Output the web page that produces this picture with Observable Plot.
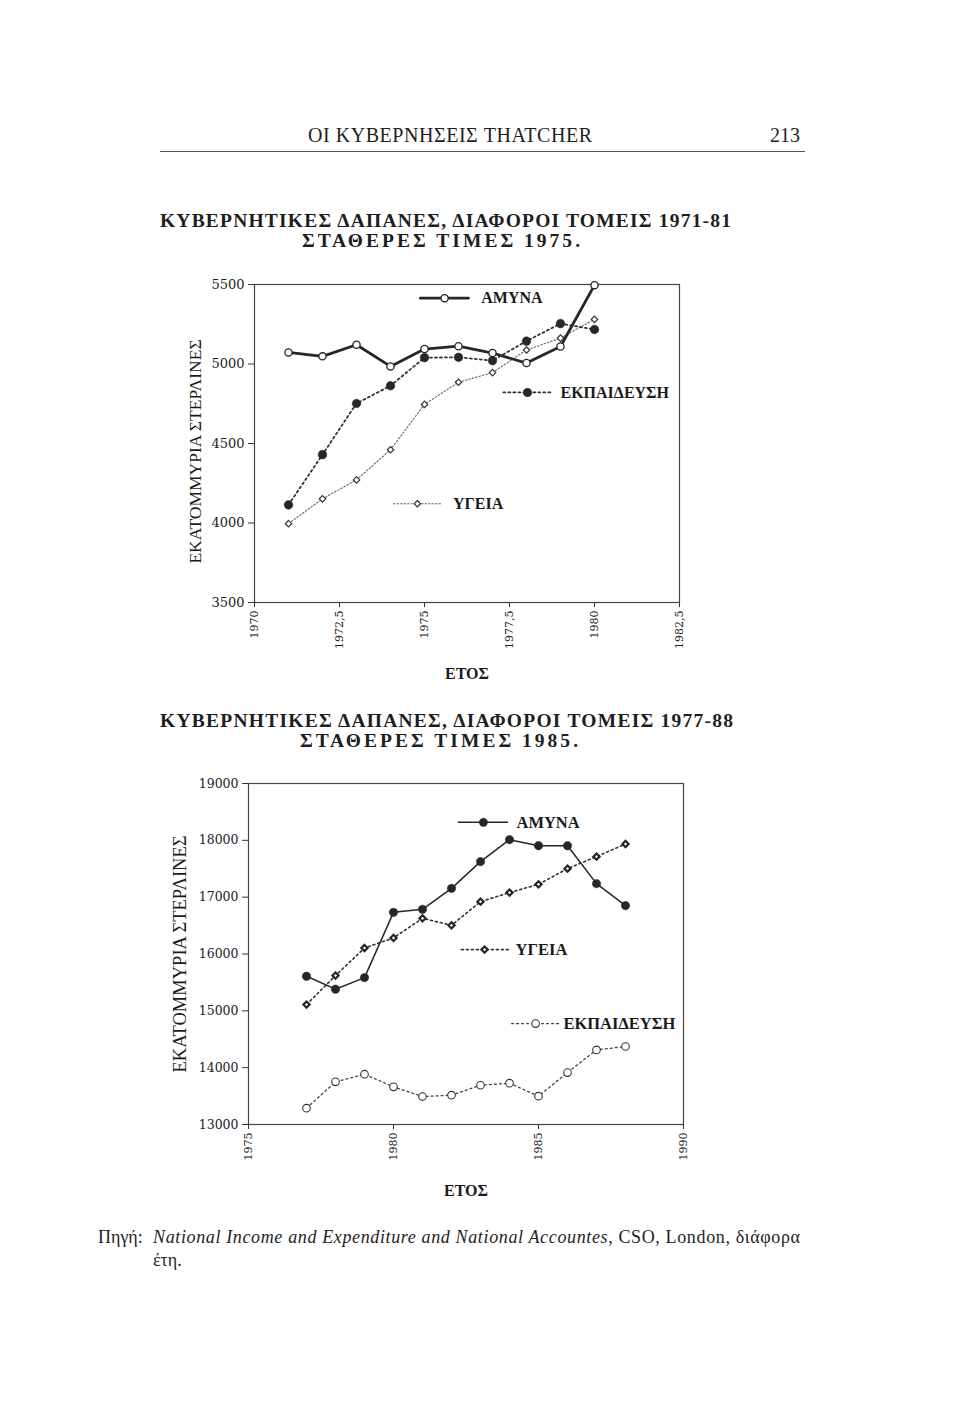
<!DOCTYPE html>
<html><head><meta charset="utf-8">
<script src="https://cdn.jsdelivr.net/npm/d3@7"></script>
<script src="https://cdn.jsdelivr.net/npm/@observablehq/plot@0.6"></script>
<style>
body{margin:0;background:#fff;}
#page{position:relative;width:960px;height:1408px;overflow:hidden;background:#fff;}
#page > svg, #page > figure{position:absolute;margin:0;}
</style></head><body><div id="page"></div>
<script>
// ---------- DATA ----------
// Chart 1: 1971-1980, constant 1975 prices (million £)
const years1 = [1971,1972,1973,1974,1975,1976,1977,1978,1979,1980];
const defence1   = [5073,5048,5121,4985,5094,5112,5069,5006,5110,5496];
const education1 = [4114,4430,4752,4863,5040,5042,5021,5144,5254,5217];
const health1    = [3996,4152,4271,4461,4746,4885,4946,5088,5163,5281];
const xTicks1 = [1970,1972.5,1975,1977.5,1980,1982.5];
const yTicks1 = [3500,4000,4500,5000,5500];

// Chart 2: 1977-1988, constant 1985 prices (million £)
const years2 = [1977,1978,1979,1980,1981,1982,1983,1984,1985,1986,1987,1988];
const defence2   = [15608,15381,15585,16733,16786,17155,17625,18012,17906,17906,17238,16851];
const health2    = [15110,15620,16105,16283,16628,16505,16921,17080,17226,17502,17713,17936];
const education2 = [13287,13751,13885,13663,13492,13516,13691,13727,13498,13914,14313,14372];
const xTicks2 = [1975,1980,1985,1990];
const yTicks2 = [13000,14000,15000,16000,17000,18000,19000];

const nameDefence = "ΑΜΥΝΑ";
const nameEducation = "ΕΚΠΑΙΔΕΥΣΗ";
const nameHealth = "ΥΓΕΙΑ";
const yLabel = "ΕΚΑΤΟΜΜΥΡΙΑ ΣΤΕΡΛΙΝΕΣ";
const xLabel = "ΕΤΟΣ";

// ---------- PAGE TEXT ----------
const page = document.getElementById("page");
const ns = "http://www.w3.org/2000/svg";
const textSvg = document.createElementNS(ns, "svg");
textSvg.setAttribute("width", 960); textSvg.setAttribute("height", 1408);
textSvg.style.left = "0px"; textSvg.style.top = "0px";
page.appendChild(textSvg);

function addText(str, x, y, size, opts = {}) {
  const t = document.createElementNS(ns, "text");
  t.setAttribute("x", x); t.setAttribute("y", y);
  t.setAttribute("font-family", "Liberation Serif");
  t.setAttribute("font-size", size);
  t.setAttribute("fill", "#1e1e1e");
  if (opts.weight) t.setAttribute("font-weight", opts.weight);
  if (opts.anchor) t.setAttribute("text-anchor", opts.anchor);
  if (opts.len) { t.setAttribute("textLength", opts.len); t.setAttribute("lengthAdjust", "spacing"); }
  if (opts.parts) {
    for (const p of opts.parts) {
      const s = document.createElementNS(ns, "tspan");
      s.textContent = p.t;
      if (p.italic) s.setAttribute("font-style", "italic");
      t.appendChild(s);
    }
  } else t.textContent = str;
  textSvg.appendChild(t);
  return t;
}
addText("ΟΙ ΚΥΒΕΡΝΗΣΕΙΣ THATCHER", 308, 142, 20, {len: 284});
addText("213", 800, 142, 20, {anchor: "end"});
const rule = document.createElementNS(ns, "line");
rule.setAttribute("x1", 160); rule.setAttribute("x2", 805);
rule.setAttribute("y1", 151.5); rule.setAttribute("y2", 151.5);
rule.setAttribute("stroke", "#555"); rule.setAttribute("stroke-width", 1);
textSvg.appendChild(rule);

addText("ΚΥΒΕΡΝΗΤΙΚΕΣ ΔΑΠΑΝΕΣ, ΔΙΑΦΟΡΟΙ ΤΟΜΕΙΣ 1971-81", 160, 227, 19.5, {len: 571, weight: "bold"});
addText("ΣΤΑΘΕΡΕΣ ΤΙΜΕΣ 1975.", 302, 247, 19.5, {len: 278, weight: "bold"});
addText("ΚΥΒΕΡΝΗΤΙΚΕΣ ΔΑΠΑΝΕΣ, ΔΙΑΦΟΡΟΙ ΤΟΜΕΙΣ 1977-88", 160, 727, 19.5, {len: 573, weight: "bold"});
addText("ΣΤΑΘΕΡΕΣ ΤΙΜΕΣ 1985.", 300, 747, 19.5, {len: 278, weight: "bold"});

addText("Πηγή:", 98, 1243, 18);
addText("", 153, 1243, 18, {len: 647, parts: [
  {t: "National Income and Expenditure and National Accountes", italic: true},
  {t: ", CSO, London, διάφορα"}
]});
addText("έτη.", 153, 1266, 18);

// ---------- CHARTS ----------
function makeChart(cfg) {
  const marks = [Plot.frame({stroke: "#444", strokeWidth: 1.2})];
  marks.push(Plot.axisY({ticks: cfg.yTicks, tickFormat: d => String(d), tickSize: 6, tickPadding: 4,
    label: null, fontFamily: "DejaVu Serif", fontSize: cfg.yTickFont, fill: "#222", stroke: "#333"}));
  marks.push(Plot.axisX({ticks: cfg.xTicks, tickFormat: cfg.xFormat, tickRotate: -90, tickSize: 5, tickPadding: 3,
    label: null, fontFamily: "DejaVu Serif", fontSize: cfg.xTickFont, fill: "#222", stroke: "#333"}));
  const ordered = [...cfg.series].sort((a, b) => a.z - b.z);
  for (const s of ordered) {
    const rows = cfg.years.map((year, i) => ({year, value: s.values[i]}));
    marks.push(Plot.line(rows, {x: "year", y: "value", stroke: s.stroke, strokeWidth: s.width,
      strokeDasharray: s.dash, strokeLinejoin: "round"}));
  }
  for (const s of ordered) {
    const rows = cfg.years.map((year, i) => ({year, value: s.values[i]}));
    marks.push(Plot.dot(rows, {x: "year", y: "value", r: s.r, symbol: s.symbol, fill: s.fill,
      stroke: s.dotStroke, strokeWidth: s.dotWidth}));
  }
  for (const s of cfg.series) {
    const L = cfg.legend[s.key];
    marks.push(Plot.line([{x: L.x1, y: L.y}, {x: L.x2, y: L.y}], {x: "x", y: "y", stroke: s.stroke,
      strokeWidth: s.width, strokeDasharray: s.dash}));
    marks.push(Plot.dot([L], {x: "xm", y: "y", r: s.r, symbol: s.symbol, fill: s.fill,
      stroke: s.dotStroke, strokeWidth: s.dotWidth}));
    marks.push(Plot.text([L], {x: "xt", y: "y", text: () => s.name, textAnchor: "start",
      fontFamily: "Liberation Serif", fontWeight: "bold", fontSize: cfg.legendFont, fill: "#1a1a1a"}));
  }
  marks.push(Plot.text([xLabel], {frameAnchor: "bottom", dy: cfg.xLabelDy, text: d => d,
    fontFamily: "Liberation Serif", fontWeight: "bold", fontSize: 16, fill: "#1a1a1a"}));
  marks.push(Plot.text([yLabel], {frameAnchor: "left", textAnchor: "middle", dx: cfg.yLabelDx, dy: cfg.yLabelDy, rotate: -90,
    text: d => d, fontFamily: "Liberation Serif", fontSize: cfg.yLabelFont, fill: "#1a1a1a"}));

  const svg = Plot.plot({
    width: cfg.width, height: cfg.height,
    marginLeft: cfg.ml, marginRight: cfg.mr, marginTop: cfg.mt, marginBottom: cfg.mb,
    x: {domain: cfg.xDomain},
    y: {domain: cfg.yDomain},
    style: {background: "transparent", color: "#222", overflow: "visible"},
    marks
  });
  svg.style.position = "absolute";
  svg.style.left = cfg.left + "px";
  svg.style.top = cfg.top + "px";
  page.appendChild(svg);
}

const dark = "#262626";

makeChart({
  left: 154, top: 264, width: 545, height: 428, ml: 100, mr: 20, mt: 20, mb: 90,
  xDomain: [1970, 1982.5], yDomain: [3500, 5500],
  xTicks: xTicks1, yTicks: yTicks1,
  xFormat: d => Number.isInteger(d) ? String(d) : String(d).replace(".", ","),
  yTickFont: 13, xTickFont: 11, legendFont: 16, yLabelFont: 17.5,
  xLabelDy: 76, yLabelDx: -59, yLabelDy: 8,
  years: years1,
  series: [
    {key: "def", name: nameDefence, values: defence1, stroke: dark, width: 2.8, dash: null,
     symbol: "circle", r: 3.6, fill: "white", dotStroke: dark, dotWidth: 1.3, z: 2},
    {key: "edu", name: nameEducation, values: education1, stroke: "#333", width: 1.8, dash: "2,3",
     symbol: "circle", r: 4.3, fill: dark, dotStroke: dark, dotWidth: 0.5, z: 1},
    {key: "hea", name: nameHealth, values: health1, stroke: "#666", width: 1.1, dash: "1.5,2",
     symbol: "diamond2", r: 2.9, fill: "white", dotStroke: "#333", dotWidth: 1.2, z: 0}
  ],
  legend: {
    def: {x1: 1974.88, x2: 1976.29, xm: 1975.59, xt: 1976.67, y: 5414},
    edu: {x1: 1977.32, x2: 1978.76, xm: 1978.03, xt: 1979.0, y: 4821},
    hea: {x1: 1974.09, x2: 1975.5, xm: 1974.79, xt: 1975.84, y: 4121}
  }
});

makeChart({
  left: 148, top: 763, width: 555, height: 451, ml: 100, mr: 20, mt: 20, mb: 90,
  xDomain: [1975, 1990], yDomain: [13000, 19000],
  xTicks: xTicks2, yTicks: yTicks2,
  xFormat: d => String(d),
  yTickFont: 12.5, xTickFont: 11, legendFont: 16.5, yLabelFont: 18.5,
  xLabelDy: 71, yLabelDx: -68, yLabelDy: 0,
  years: years2,
  series: [
    {key: "def", name: nameDefence, values: defence2, stroke: dark, width: 1.5, dash: null,
     symbol: "circle", r: 4.2, fill: dark, dotStroke: dark, dotWidth: 0.5, z: 2},
    {key: "hea", name: nameHealth, values: health2, stroke: "#333", width: 1.6, dash: "2,3",
     symbol: "diamond2", r: 2.8, fill: "white", dotStroke: dark, dotWidth: 2.2, z: 1},
    {key: "edu", name: nameEducation, values: education2, stroke: "#444", width: 1.3, dash: "2,3",
     symbol: "circle", r: 3.8, fill: "white", dotStroke: "#333", dotWidth: 1.1, z: 0}
  ],
  legend: {
    def: {x1: 1982.24, x2: 1983.93, xm: 1983.10, xt: 1984.24, y: 18316},
    hea: {x1: 1982.34, x2: 1983.97, xm: 1983.14, xt: 1984.21, y: 16077},
    edu: {x1: 1984.07, x2: 1985.72, xm: 1984.9, xt: 1985.86, y: 14776}
  }
});
</script>
</body></html>
